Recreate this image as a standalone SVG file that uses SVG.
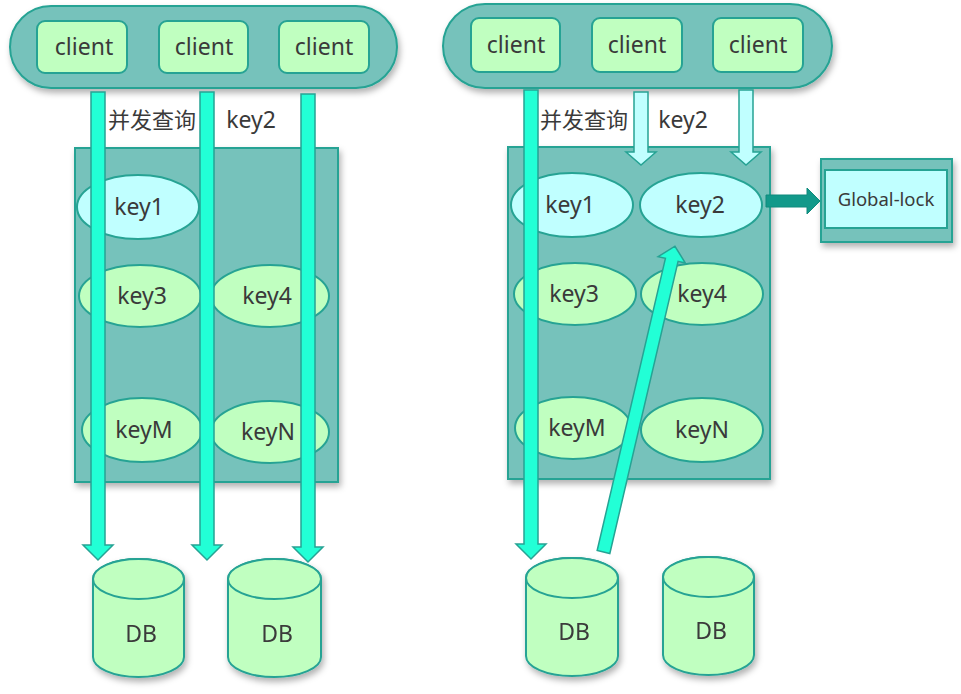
<svg xmlns="http://www.w3.org/2000/svg" width="961" height="694" viewBox="0 0 961 694">
<style>
text{font-family:"Noto Sans","Noto Sans CJK SC",sans-serif;fill:#3a3a3a;text-anchor:middle}
.pill{fill:#76c2bb;stroke:#26a394;stroke-width:2}
.client{fill:#c0ffc0;stroke:#26a394;stroke-width:2}
.box{fill:#76c2bb;stroke:#26a394;stroke-width:2}
.kg{fill:#c0ffc0;stroke:#26a394;stroke-width:2}
.kc{fill:#c0ffff;stroke:#26a394;stroke-width:2}
.db{fill:#c0ffc0;stroke:#26a394;stroke-width:2}
.arr{fill:#22ffd6;stroke:#26a394;stroke-width:1.5}
.arrc{fill:#c0ffff;stroke:#26a394;stroke-width:1.5}
.t22{font-size:22px}
.t23{font-size:23px}
</style>
<defs>
<filter id="sh" x="-20%" y="-20%" width="140%" height="150%">
<feDropShadow dx="2" dy="4" stdDeviation="3" flood-color="#000" flood-opacity="0.3"/>
</filter>
</defs>

<g id="left-clients">
<rect class="pill" x="10" y="6" width="387" height="82" rx="41" filter="url(#sh)"/>
<g id="lc1"><rect class="client" x="37" y="21" width="90" height="52" rx="8"/><text class="t23" x="84" y="55">client</text></g>
<g id="lc2"><rect class="client" x="159" y="21" width="89" height="52" rx="8"/><text class="t23" x="204" y="55">client</text></g>
<g id="lc3"><rect class="client" x="279" y="21" width="90" height="52" rx="8"/><text class="t23" x="324" y="55">client</text></g>
</g>

<g id="right-clients">
<rect class="pill" x="443" y="4" width="389" height="84" rx="42" filter="url(#sh)"/>
<g id="rc1"><rect class="client" x="471" y="18" width="89" height="54" rx="8"/><text class="t23" x="516" y="53">client</text></g>
<g id="rc2"><rect class="client" x="592" y="18" width="90" height="54" rx="8"/><text class="t23" x="637" y="53">client</text></g>
<g id="rc3"><rect class="client" x="713" y="18" width="90" height="54" rx="8"/><text class="t23" x="758" y="53">client</text></g>
</g>

<g id="labels">
<text class="t22" x="152" y="128">并发查询</text>
<text class="t23" x="251" y="128">key2</text>
<text class="t22" x="584" y="128">并发查询</text>
<text class="t23" x="683" y="128">key2</text>
</g>

<g id="left-cache">
<rect class="box" x="75" y="148" width="263" height="334" filter="url(#sh)"/>
<g id="l-key1"><ellipse class="kc" cx="138" cy="207" rx="61" ry="32"/><text class="t23" x="139" y="215">key1</text></g>
<g id="l-key3"><ellipse class="kg" cx="140" cy="296" rx="61" ry="31"/><text class="t23" x="142" y="304">key3</text></g>
<g id="l-key4"><ellipse class="kg" cx="270" cy="296" rx="59" ry="31"/><text class="t23" x="267" y="304">key4</text></g>
<g id="l-keyM"><ellipse class="kg" cx="142" cy="430" rx="60" ry="32"/><text class="t23" x="144" y="438">keyM</text></g>
<g id="l-keyN"><ellipse class="kg" cx="270" cy="432" rx="59" ry="31"/><text class="t23" x="268" y="440">keyN</text></g>
</g>

<g id="right-cache">
<rect class="box" x="508" y="147" width="262" height="332" filter="url(#sh)"/>
<g id="r-key1"><ellipse class="kc" cx="572" cy="205" rx="61" ry="32"/><text class="t23" x="570" y="213">key1</text></g>
<g id="r-key2"><ellipse class="kc" cx="701" cy="205" rx="61" ry="32"/><text class="t23" x="700" y="213">key2</text></g>
<g id="r-key3"><ellipse class="kg" cx="575" cy="294" rx="61" ry="31"/><text class="t23" x="574" y="302">key3</text></g>
<g id="r-key4"><ellipse class="kg" cx="702" cy="294" rx="61" ry="31"/><text class="t23" x="702" y="302">key4</text></g>
<g id="r-keyM"><ellipse class="kg" cx="573" cy="428" rx="58" ry="31"/><text class="t23" x="577" y="436">keyM</text></g>
<g id="r-keyN"><ellipse class="kg" cx="702" cy="430" rx="61" ry="32"/><text class="t23" x="702" y="438">keyN</text></g>
</g>

<g id="global-lock">
<rect class="box" x="821" y="159" width="131" height="83" filter="url(#sh)"/>
<rect class="kc" x="825" y="170" width="122" height="58"/>
<text x="886" y="206" style="font-size:18.5px">Global-lock</text>
</g>

<g id="left-db">
<g id="ldb1" filter="url(#sh)">
<path class="db" d="M93,579 A45.5,20 0 0 1 184,579 L184,657 A45.5,20 0 0 1 93,657 Z"/>
<ellipse class="db" cx="138.5" cy="579" rx="45.5" ry="20"/>
<text class="t23" x="141" y="642">DB</text>
</g>
<g id="ldb2" filter="url(#sh)">
<path class="db" d="M228,579 A46.5,20 0 0 1 321,579 L321,657 A46.5,20 0 0 1 228,657 Z"/>
<ellipse class="db" cx="274.5" cy="579" rx="46.5" ry="20"/>
<text class="t23" x="277" y="642">DB</text>
</g>
</g>

<g id="right-db">
<g id="rdb1" filter="url(#sh)">
<path class="db" d="M526,578 A46,20 0 0 1 618,578 L618,656 A46,20 0 0 1 526,656 Z"/>
<ellipse class="db" cx="572" cy="578" rx="46" ry="20"/>
<text class="t23" x="574" y="640">DB</text>
</g>
<g id="rdb2" filter="url(#sh)">
<path class="db" d="M663,577 A45.5,20 0 0 1 754,577 L754,655 A45.5,20 0 0 1 663,655 Z"/>
<ellipse class="db" cx="708.5" cy="577" rx="45.5" ry="20"/>
<text class="t23" x="711" y="639">DB</text>
</g>
</g>

<g id="connectors">
<polygon class="arr" points="91,92 105,92 105,545 113,545 98,560 83,545 91,545"/>
<polygon class="arr" points="200,92 214,92 214,545 222,545 207,560 192,545 200,545"/>
<polygon class="arr" points="301,94 315,94 315,547 323,547 308,562 293,547 301,547"/>
<polygon class="arr" points="524,90 538,90 538,544 546,544 531,559 516,544 524,544"/>
<polygon class="arrc" points="634,92 648,92 648,152 656,152 641,165 626,152 634,152"/>
<polygon class="arrc" points="739,90 753,90 753,152 761,152 746,165 731,152 739,152"/>
<polygon class="arr" transform="translate(603.5 552) rotate(13.15)" points="-6.5,0 -6.5,-300 -14,-300 0,-314 14,-300 6.5,-300 6.5,0"/>
<polygon points="766,195 807,195 807,188 820,201 807,214 807,207 766,207" fill="#12998a" stroke="#0e8a7c" stroke-width="1"/>
</g>
</svg>
